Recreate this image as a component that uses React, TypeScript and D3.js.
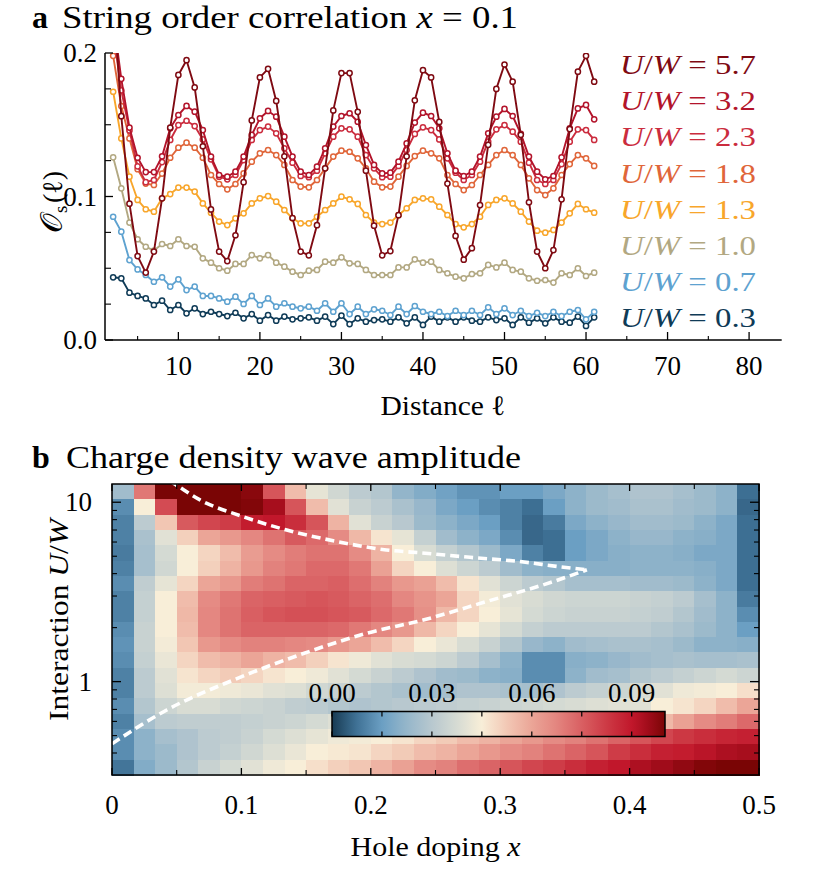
import React from "react";
import * as d3 from "d3";

// ---------- Panel a data ----------
const distances = [2,3,4,5,6,7,8,9,10,11,12,13,14,15,16,17,18,19,20,21,22,23,24,25,26,27,28,29,30,31,32,33,34,35,36,37,38,39,40,41,42,43,44,45,46,47,48,49,50,51,52,53,54,55,56,57,58,59,60,61];

const s03 = [.0437,.043,.033,.0307,.029,.0244,.0274,.0209,.0244,.0186,.0221,.0181,.0197,.0181,.0167,.019,.0151,.0181,.0135,.0174,.0135,.0163,.0144,.0151,.0158,.0135,.0163,.0111,.017,.0111,.0151,.0128,.0139,.0144,.0128,.0158,.0116,.0158,.0105,.0163,.0128,.0158,.0128,.0158,.0135,.0128,.0158,.0139,.0151,.0105,.0158,.0121,.0151,.0116,.0158,.0128,.0121,.0163,.0098,.0158];
const s07 = [.0859,.0755,.0557,.0492,.0453,.0406,.0437,.0372,.0423,.0348,.0372,.0307,.0307,.029,.0267,.0302,.0251,.0307,.0244,.029,.0232,.0256,.0232,.0221,.0232,.0204,.0256,.0197,.0256,.0181,.0232,.0181,.0214,.0204,.0174,.0232,.0181,.0237,.0197,.0181,.0197,.0167,.0204,.0174,.0204,.0174,.0228,.0181,.0221,.0174,.0204,.0167,.019,.0167,.0197,.0167,.0197,.0209,.0144,.0197];
const s10 = [.1273,.1057,.0818,.0702,.065,.0623,.0669,.0655,.0702,.0655,.065,.0569,.0539,.05,.0483,.053,.053,.0592,.0569,.0592,.0539,.0511,.0476,.0453,.0483,.0488,.0546,.0539,.0576,.0534,.053,.0488,.0453,.0453,.0453,.0506,.0506,.0562,.0539,.0546,.0488,.0465,.0441,.043,.046,.0465,.0523,.0506,.0539,.0488,.0476,.043,.0413,.0418,.04,.0465,.0453,.05,.0446,.0469];
const s13 = [.173,.1405,.1138,.0976,.0911,.0894,.0987,.1017,.1062,.1062,.1034,.0952,.0887,.0825,.0801,.0848,.0883,.0952,.0987,.1003,.0964,.0906,.0848,.0813,.0813,.0859,.0906,.0952,.0999,.098,.0948,.0871,.0818,.0808,.0818,.0871,.0918,.0976,.0987,.098,.0929,.0871,.0808,.0785,.0808,.0859,.0941,.0976,.0987,.0952,.0894,.0825,.0762,.0748,.0767,.0818,.0883,.0948,.0911,.0887];
const s18 = [.198,.163,.1405,.119,.109,.108,.116,.127,.134,.1375,.134,.127,.115,.1087,.105,.1087,.1161,.1243,.1301,.1324,.1289,.122,.1115,.1069,.1064,.1115,.1196,.1278,.1319,.1312,.1266,.1196,.1103,.1064,.1069,.1138,.1213,.1282,.1319,.1301,.1266,.115,.1087,.1045,.108,.115,.122,.1289,.1324,.1289,.122,.1127,.1045,.101,.1057,.115,.1226,.1289,.1266,.1213];
const s23 = [.215,.174,.146,.121,.110,.1115,.124,.1394,.1498,.1528,.1491,.1398,.1259,.1138,.112,.115,.1254,.1394,.1463,.1487,.144,.1336,.1236,.1143,.1134,.118,.1301,.1417,.1475,.1468,.1417,.1289,.1196,.1134,.1138,.1213,.1324,.1436,.1482,.1463,.1398,.1266,.1166,.1115,.115,.1243,.1382,.1468,.1498,.1452,.1382,.1236,.1115,.1087,.1115,.1226,.1382,.1468,.1463,.1394];
const s32 = [.225,.182,.148,.127,.117,.117,.128,.1475,.1568,.1631,.1591,.1463,.1278,.115,.1138,.1173,.1278,.1429,.1545,.1596,.1556,.1417,.1278,.1173,.115,.1208,.1336,.1487,.1561,.158,.1521,.1359,.122,.1161,.1166,.1243,.137,.1515,.1584,.1561,.1475,.1301,.118,.1143,.1173,.1278,.144,.1556,.161,.1561,.1436,.1278,.1173,.112,.1143,.1273,.1475,.1614,.1638,.1538];
const s57 = [.245,.156,.095,.0585,.047,.0616,.0987,.148,.1847,.195,.176,.135,.091,.0616,.055,.073,.110,.153,.183,.189,.1666,.128,.085,.0616,.059,.080,.1196,.160,.186,.186,.159,.118,.0797,.059,.062,.087,.128,.167,.188,.183,.152,.109,.0725,.056,.064,.094,.136,.175,.192,.180,.143,.096,.0616,.050,.0627,.098,.147,.187,.198,.180];

const seriesLabels = ["0.3", "0.7", "1.0", "1.3", "1.8", "2.3", "3.2", "5.7"];
const seriesValues = [s03, s07, s10, s13, s18, s23, s32, s57];
const seriesColors = ["#0f3b57", "#5ea2d0", "#b2a882", "#f8a62b", "#e0663a", "#cb2c3e", "#b3142b", "#7f0a12"];

const topXTicks = [10, 20, 30, 40, 50, 60, 70, 80];
const topXMinor = [5, 15, 25, 35, 45, 55, 65, 75];
const topYTicks = [0, 0.1, 0.2];
const topYMinor = [0.025, 0.05, 0.075, 0.125, 0.15, 0.175];

// ---------- Panel b data ----------
const doping = [0.0083,0.025,0.0417,0.0583,0.075,0.0917,0.1083,0.125,0.1417,0.1583,0.175,0.1917,0.2083,0.225,0.2417,0.2583,0.275,0.2917,0.3083,0.325,0.3417,0.3583,0.375,0.3917,0.4083,0.425,0.4417,0.4583,0.475,0.4917];
const interaction = [11.45, 9.40, 7.73, 6.35, 5.22, 4.29, 3.52, 2.89, 2.38, 1.95, 1.60, 1.32, 1.08, 0.890, 0.731, 0.601, 0.494, 0.406, 0.333];
// CDW amplitude in units of 1e-3; rows follow `interaction`, columns follow `doping`
const cdwMilli = [
  [25,70,100,100,100,100,98,77,55,41,36,31,29,22,19,16,13,13,15,15,18,21,24,26,28,28,26,24,21,7],
  [12,45,79,100,100,100,99,94,77,55,40,34,31,27,23,18,15,12,10,7,15,21,24,25,27,27,25,24,21,6],
  [10,31,53,76,80,82,89,90,85,77,57,40,34,30,24,21,18,15,10,6,9,18,21,23,25,25,24,21,18,7],
  [10,27,40,51,60,63,67,71,76,73,66,56,47,41,33,25,21,18,12,6,7,15,18,21,23,23,21,20,18,7],
  [9,26,37,45,50,55,62,66,69,71,71,66,57,45,38,33,29,24,18,10,7,15,18,20,21,21,20,18,18,7],
  [10,26,36,45,51,57,63,68,70,73,73,70,61,50,45,39,35,31,25,21,20,20,20,20,21,21,21,20,18,7],
  [12,32,41,50,60,63,69,71,74,74,75,72,68,63,61,55,47,40,35,31,29,26,26,26,25,25,24,21,18,7],
  [10,33,45,55,66,70,74,75,76,77,76,74,72,67,64,60,50,44,40,38,36,35,35,35,34,33,31,26,21,9],
  [10,33,45,56,67,71,75,77,78,78,77,76,73,70,65,56,50,45,41,37,35,34,34,34,33,32,29,25,21,12],
  [12,34,45,55,67,71,74,74,74,74,73,70,67,63,56,50,45,41,37,33,31,31,31,31,31,29,27,24,21,15],
  [13,34,44,53,63,66,68,68,67,66,63,60,55,50,45,42,38,34,29,23,21,25,26,27,27,26,24,21,21,20],
  [12,33,42,50,55,57,60,57,55,51,47,43,40,38,37,35,31,26,21,12,12,20,21,23,25,26,27,26,26,27],
  [10,31,40,47,50,52,50,47,45,43,40,37,34,31,28,25,24,21,20,12,12,21,25,26,29,31,33,35,37,35],
  [10,31,39,44,44,43,42,40,39,36,34,31,29,27,25,26,28,28,27,26,28,31,33,35,38,40,43,44,45,48],
  [12,29,35,38,38,36,35,34,32,31,29,28,29,30,31,32,33,34,35,36,37,38,39,40,40,45,47,50,55,60],
  [10,26,31,32,32,32,33,34,35,37,39,40,41,42,43,44,45,46,47,48,49,50,52,53,54,56,61,66,69,73],
  [12,21,26,28,31,32,34,37,39,41,43,44,45,47,50,52,55,57,60,63,66,68,71,74,77,80,83,85,87,88],
  [12,21,24,28,31,33,36,39,42,45,46,47,50,52,55,57,60,63,66,68,71,74,77,82,85,88,89,91,93,94],
  [8,19,24,29,34,37,40,43,45,48,51,53,57,61,66,68,72,74,77,80,82,85,88,90,93,95,97,99,100,100],
];

const upperBoundary: [number, number][] = [[0.035,14.5],[0.0487,12.6],[0.068,10.3],[0.1015,8.3],[0.135,7.0],[0.171,6.1],[0.212,5.42],[0.242,5.2],[0.2767,4.93],[0.315,4.67],[0.346,4.37],[0.367,4.2]];
const lowerBoundary: [number, number][] = [[0.0,0.45],[0.0423,0.695],[0.0937,1.02],[0.145,1.41],[0.197,1.86],[0.242,2.22],[0.289,2.79],[0.341,3.61],[0.367,4.2]];

const cmapStops = [0, 7, 15, 22, 30, 37.5, 45, 52.5, 60, 67.5, 75, 82.5, 90, 95, 100];
const cmapColors = ["#173a52", "#3d6f93", "#6b9fc3", "#93b5ca", "#b8c8cf", "#d6dbd3", "#f8eed8", "#f2c8b5", "#eba597", "#e3857f", "#d95f62", "#cd3a45", "#c1172b", "#a00c1a", "#7a0505"];

const hXTicks = [0, 0.1, 0.2, 0.3, 0.4, 0.5];
const hXMinor = [0.05, 0.15, 0.25, 0.35, 0.45];
const hYMajor = [1, 10];
const hYMinor = [0.4, 0.5, 0.6, 0.7, 0.8, 0.9, 2, 3, 4, 5, 6, 7, 8, 9];
const cbTicks = [0, 0.03, 0.06, 0.09];
const cbMinor = [0.015, 0.045, 0.075];

const FONT = "'Liberation Serif', 'DejaVu Serif', serif";

export default function App() {
  // Panel a scales
  const xA = d3.scaleLinear().domain([1, 84]).range([105, 781.7]);
  const yA = d3.scaleLinear().domain([0, 0.2]).range([340, 53]);
  const lineA = d3.line<number>().x((_, i) => xA(distances[i])).y((d) => yA(d));

  // Panel b scales
  const xB = d3.scaleLinear().domain([0, 0.5]).range([112, 759]);
  const n = interaction.length;
  const uTop = interaction[0] * Math.sqrt(interaction[0] / interaction[1]);
  const uBot = interaction[n - 1] * Math.sqrt(interaction[n - 1] / interaction[n - 2]);
  const yB = d3.scaleLog().domain([uBot, uTop]).range([775, 484]);
  const cmap = d3.scaleLinear<string>().domain(cmapStops).range(cmapColors).interpolate(d3.interpolateRgb).clamp(true);

  const uEdges = interaction.map((u, i) => {
    const up = i === 0 ? uTop : Math.sqrt(u * interaction[i - 1]);
    const lo = i === n - 1 ? uBot : Math.sqrt(u * interaction[i + 1]);
    return [up, lo];
  });
  const xEdges = doping.map((x, i) => {
    const l = i === 0 ? 0 : (x + doping[i - 1]) / 2;
    const r = i === doping.length - 1 ? 0.5 : (x + doping[i + 1]) / 2;
    return [l, r];
  });

  const boundaryLine = d3.line<[number, number]>().x((d) => xB(d[0])).y((d) => yB(d[1])).curve(d3.curveMonotoneX);

  const cb = d3.scaleLinear().domain([0, 0.1]).range([332, 665]);
  const cbTop = 711.5, cbBot = 736.5;
  const cbSteps = d3.range(0, 100.01, 2.5);

  const tickFont = 27;
  const labelFont = 28;

  return (
    <svg width={830} height={892} style={{ position: "absolute", left: 0, top: 0, background: "#fff" }} fontFamily={FONT}>
      <defs>
        <clipPath id="clipA"><rect x={105} y={53} width={781.7 - 105} height={340 - 53} /></clipPath>
        <clipPath id="clipB"><rect x={112} y={484} width={759 - 112} height={775 - 484} /></clipPath>
        <linearGradient id="cbGrad" x1="0" x2="1" y1="0" y2="0">
          {cbSteps.map((s) => (
            <stop key={s} offset={`${s}%`} stopColor={cmap(s)} />
          ))}
        </linearGradient>
      </defs>
      <rect x={0} y={0} width={830} height={892} fill="#fff" />

      {/* ---------- Panel a ---------- */}
      <text x={32} y={28} fontSize={32} fontWeight="bold">a</text>
      <text x={62} y={28} fontSize={32} textLength={456} lengthAdjust="spacingAndGlyphs">
        String order correlation <tspan fontStyle="italic">x</tspan> = 0.1
      </text>

      <g clipPath="url(#clipA)">
        {seriesValues.map((vals, si) => (
          <g key={si}>
            <path d={lineA(vals) || ""} fill="none" stroke={seriesColors[si]} strokeWidth={1.9} strokeLinejoin="round" />
            {vals.map((v, i) => (
              <circle key={i} cx={xA(distances[i])} cy={yA(v)} r={2.6} fill="#fff" stroke={seriesColors[si]} strokeWidth={1.5} />
            ))}
          </g>
        ))}
      </g>

      {/* axes a */}
      <line x1={105} x2={105} y1={53} y2={340} stroke="#000" strokeWidth={1.5} />
      <line x1={105} x2={781.7} y1={340} y2={340} stroke="#000" strokeWidth={1.5} />
      {topXTicks.map((t) => (
        <g key={t}>
          <line x1={xA(t)} x2={xA(t)} y1={340} y2={332} stroke="#000" strokeWidth={1.3} />
          <text x={xA(t)} y={375} fontSize={tickFont} textAnchor="middle">{t}</text>
        </g>
      ))}
      {topXMinor.map((t) => (
        <line key={t} x1={xA(t)} x2={xA(t)} y1={340} y2={336} stroke="#000" strokeWidth={1.1} />
      ))}
      {topYTicks.map((t) => (
        <g key={t}>
          <line x1={105} x2={113} y1={yA(t)} y2={yA(t)} stroke="#000" strokeWidth={1.3} />
          <text x={97} y={yA(t) + 9} fontSize={tickFont} textAnchor="end">{t.toFixed(1)}</text>
        </g>
      ))}
      {topYMinor.map((t) => (
        <line key={t} x1={105} x2={111} y1={yA(t)} y2={yA(t)} stroke="#000" strokeWidth={1.1} />
      ))}
      <text x={443 - 62.5} y={415} fontSize={labelFont} textLength={125} lengthAdjust="spacingAndGlyphs">Distance ℓ</text>
      <g transform="translate(62,197) rotate(-90)" fontSize={labelFont}>
        <text x={-36} y={0} fontSize={31}>𝒪</text>
        <text x={-16} y={5} fontSize={19}>s</text>
        <text x={-6} y={0}>(ℓ)</text>
      </g>

      {/* legend */}
      {seriesLabels.map((lab, si) => {
        const row = seriesLabels.length - 1 - si;
        return (
          <text key={lab} x={620} y={74 + row * 36.2} fontSize={labelFont} fill={seriesColors[si]} textLength={136} lengthAdjust="spacingAndGlyphs">
            <tspan fontStyle="italic">U</tspan>/<tspan fontStyle="italic">W</tspan> = {lab}
          </text>
        );
      })}

      {/* ---------- Panel b ---------- */}
      <text x={32} y={468} fontSize={32} fontWeight="bold">b</text>
      <text x={66} y={468} fontSize={32} textLength={455} lengthAdjust="spacingAndGlyphs">Charge density wave amplitude</text>

      <g shapeRendering="crispEdges">
        {cdwMilli.map((row, ri) =>
          row.map((v, ci) => {
            const x0 = xB(xEdges[ci][0]);
            const x1 = xB(xEdges[ci][1]);
            const y0 = yB(uEdges[ri][0]);
            const y1 = yB(uEdges[ri][1]);
            return <rect key={`${ri}-${ci}`} x={x0} y={y0} width={x1 - x0 + 0.5} height={y1 - y0 + 0.5} fill={cmap(v)} />;
          })
        )}
      </g>

      <g clipPath="url(#clipB)">
        <path d={boundaryLine(upperBoundary) || ""} fill="none" stroke="#fff" strokeWidth={3.6} strokeDasharray="9,5" />
        <path d={boundaryLine(lowerBoundary) || ""} fill="none" stroke="#fff" strokeWidth={3.6} strokeDasharray="9,5" />
      </g>

      {/* heatmap axes */}
      <rect x={112} y={484} width={759 - 112} height={775 - 484} fill="none" stroke="#000" strokeWidth={1.5} />
      {hXTicks.map((t) => (
        <g key={t}>
          <line x1={xB(t)} x2={xB(t)} y1={775} y2={768} stroke="#000" strokeWidth={1.3} />
          <line x1={xB(t)} x2={xB(t)} y1={484} y2={491} stroke="#000" strokeWidth={1.3} />
          <text x={xB(t)} y={814} fontSize={tickFont} textAnchor="middle">{t === 0 ? "0" : t.toFixed(1)}</text>
        </g>
      ))}
      {hXMinor.map((t) => (
        <g key={t}>
          <line x1={xB(t)} x2={xB(t)} y1={775} y2={770} stroke="#000" strokeWidth={1.1} />
          <line x1={xB(t)} x2={xB(t)} y1={484} y2={489} stroke="#000" strokeWidth={1.1} />
        </g>
      ))}
      {hYMajor.map((t) => (
        <g key={t}>
          <line x1={112} x2={121} y1={yB(t)} y2={yB(t)} stroke="#000" strokeWidth={1.3} />
          <line x1={759} x2={750} y1={yB(t)} y2={yB(t)} stroke="#000" strokeWidth={1.3} />
          <text x={92} y={yB(t) + 9} fontSize={tickFont} textAnchor="end">{t}</text>
        </g>
      ))}
      {hYMinor.map((t) => (
        <g key={t}>
          <line x1={112} x2={117} y1={yB(t)} y2={yB(t)} stroke="#000" strokeWidth={1.1} />
          <line x1={759} x2={754} y1={yB(t)} y2={yB(t)} stroke="#000" strokeWidth={1.1} />
        </g>
      ))}
      <text x={435.5 - 85} y={856} fontSize={labelFont} textLength={170} lengthAdjust="spacingAndGlyphs">
        Hole doping <tspan fontStyle="italic">x</tspan>
      </text>
      <text transform="translate(68,620) rotate(-90)" x={-101} y={0} fontSize={labelFont} textLength={202} lengthAdjust="spacingAndGlyphs">
        Interaction <tspan fontStyle="italic">U</tspan>/<tspan fontStyle="italic">W</tspan>
      </text>

      {/* colorbar */}
      <rect x={cb(0)} y={cbTop} width={cb(0.1) - cb(0)} height={cbBot - cbTop} fill="url(#cbGrad)" stroke="#000" strokeWidth={1.5} />
      {[...cbTicks, ...cbMinor].map((t) => (
        <g key={t}>
          <line x1={cb(t)} x2={cb(t)} y1={cbTop} y2={cbTop + 5} stroke="#000" strokeWidth={1.2} />
          <line x1={cb(t)} x2={cb(t)} y1={cbBot} y2={cbBot - 5} stroke="#000" strokeWidth={1.2} />
        </g>
      ))}
      {cbTicks.map((t) => (
        <text key={t} x={cb(t)} y={702} fontSize={tickFont} textAnchor="middle">{t.toFixed(2)}</text>
      ))}
    </svg>
  );
}
